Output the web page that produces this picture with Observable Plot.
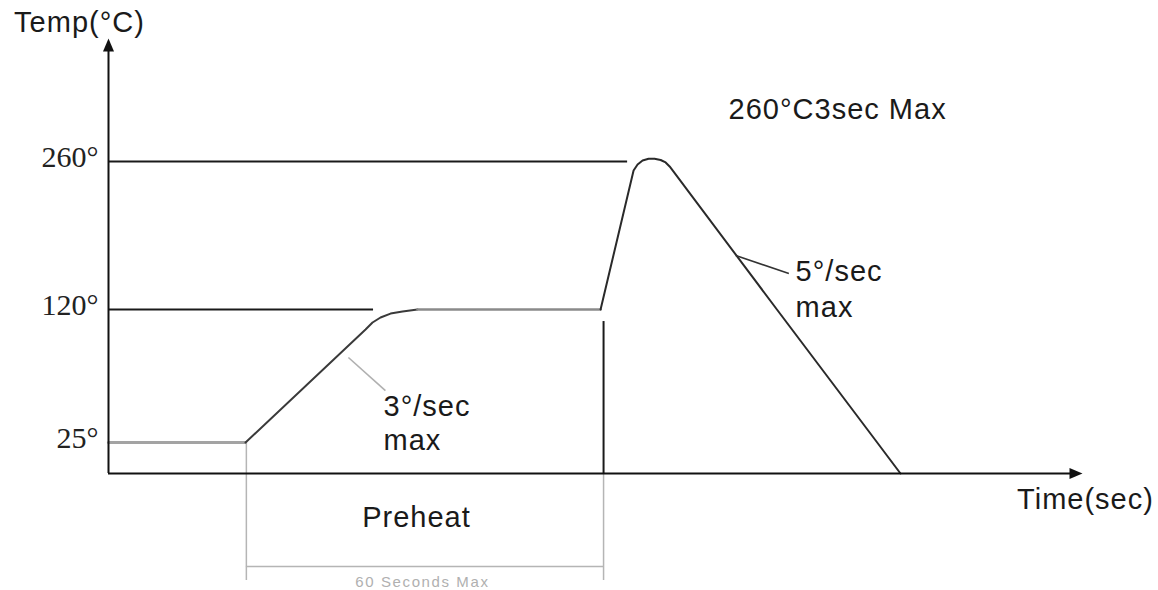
<!DOCTYPE html>
<html><head><meta charset="utf-8">
<script src="https://cdn.jsdelivr.net/npm/d3@7"></script>
<script src="https://cdn.jsdelivr.net/npm/@observablehq/plot@0.6"></script>
<style>
html,body{margin:0;padding:0;background:#fff;overflow:hidden}
.ann text{letter-spacing:1px}
.note text{letter-spacing:1.6px}
</style>
</head><body><div id="chart"></div>
<script>
// Y tick values and labels (temperature, °C)
const tickTemps = [25, 120, 260];
const tickLabels = ["25°", "120°", "260°"];

// Reflow profile: time (s, schematic) and temperature (°C), by segment
const profileTime = [0, 22.96, 22.96, 43.07, 44.24, 45.58, 47.26, 49.27, 51.78, 51.78, 82.45, 82.45, 87.98, 88.65, 89.49, 90.50, 91.50, 92.51, 93.35, 94.02, 112.0, 128.8, 132.7];
const profileTemp = [25, 25, 25, 105.7, 110.7, 114.3, 117.1, 118.6, 120, 120, 120, 120, 251.5, 257.2, 261.0, 262.6, 262.6, 261.4, 259.1, 255.3, 120, 25, 0];
const profileSeg  = ["hold","hold","ramp","ramp","ramp","ramp","ramp","ramp","ramp","soak","soak","peak","peak","peak","peak","peak","peak","peak","peak","peak","peak","peak","peak"];

// Guide lines at 260° and 120°
const guideTemps = [260, 120];
const guideEnds = [86.98, 44.41];

// Preheat window (s)
const preheatStart = 23.1;
const preheatEnd = 82.95;
const preheatEndTemp = 111.4;
const dimTemp = -75;
const dimBottom = -86.3;

// Centered annotation texts
const annText = ["Temp(°C)", "260°C3sec Max", "Time(sec)", "Preheat"];
const annTime = [-4.86, 122.17, 163.7, 51.6];
const annTemp = [390.5, 309.2, -21.0, -35.5];

// Slope labels (left-aligned)
const slopeText = ["3°/sec", "max", "5°/sec", "max"];
const slopeTime = [46.09, 46.09, 115.13, 115.13];
const slopeTemp = [50.7, 26.4, 155.9, 121.9];

const noteText = ["60 Seconds Max"];
const noteTime = [52.6];
const noteTemp = [-88];

// Leader lines
const leaderT1 = [40.2, 105.1];
const leaderY1 = [85.7, 171.1];
const leaderT2 = [46.4, 114.0];
const leaderY2 = [62.1, 154.1];

// Axis ends
const xAxisEnd = 163.2;
const yAxisEnd = 376;

// Schematic (non-uniform) temperature axis: breakpoints and their relative heights
const yBreaks = [0, 25, 120, 260, 376];
const yHeights = [0, 31, 164, 312, 435];
const ySchematic = d3.scaleLinear().domain(yBreaks).range(yHeights);

const profile = profileTime.map((t, i) => ({t, T: profileTemp[i], seg: profileSeg[i]}));
const guides = guideTemps.map((T, i) => ({T, end: guideEnds[i]}));
const ann = annText.map((s, i) => ({s, t: annTime[i], T: annTemp[i]}));
const slopes = slopeText.map((s, i) => ({s, t: slopeTime[i], T: slopeTemp[i]}));
const notes = noteText.map((s, i) => ({s, t: noteTime[i], T: noteTemp[i]}));
const leaders = leaderT1.map((t1, i) => ({t1, y1: leaderY1[i], t2: leaderT2[i], y2: leaderY2[i], k: i}));

const arrowHead = {draw(ctx) { ctx.moveTo(0, 0); ctx.lineTo(-5.5, 13); ctx.lineTo(5.5, 13); ctx.closePath(); }};

const sans = "Liberation Sans, Arial, sans-serif";
const segStyle = {
  hold: {stroke: "#a3a3a3", w: 3},
  ramp: {stroke: "#3a3a3a", w: 2},
  soak: {stroke: "#8a8a8a", w: 2.5},
  peak: {stroke: "#2a2a2a", w: 2}
};

const chart = Plot.plot({
  width: 1158,
  height: 590,
  marginLeft: 108,
  marginRight: 76,
  marginTop: 38,
  marginBottom: 117,
  style: {background: "#fff"},
  x: {domain: [0, xAxisEnd], range: [108, 1082], axis: null},
  y: {transform: ySchematic, domain: [0, 435], range: [473, 38], axis: null},
  marks: [
    // preheat dimension (gray)
    Plot.ruleX([preheatStart], {y1: 25, y2: dimBottom, stroke: "#b5b5b5", strokeWidth: 1.5}),
    Plot.ruleX([preheatEnd], {y1: 0, y2: dimBottom, stroke: "#b5b5b5", strokeWidth: 1.5}),
    Plot.ruleY([dimTemp], {x1: preheatStart, x2: preheatEnd, stroke: "#b5b5b5", strokeWidth: 1.5}),
    // guides
    Plot.ruleY(guides, {y: "T", x1: 0, x2: "end", stroke: "#1a1a1a", strokeWidth: 2}),
    Plot.ruleX([preheatEnd], {y1: 0, y2: preheatEndTemp, stroke: "#1a1a1a", strokeWidth: 2}),
    // profile
    ...Object.keys(segStyle).map(k => Plot.line(profile.filter(d => d.seg === k), {
      x: "t", y: "T", stroke: segStyle[k].stroke, strokeWidth: segStyle[k].w,
      strokeLinejoin: "round", strokeLinecap: "round"
    })),
    // leaders
    Plot.link(leaders, {x1: "t1", y1: "y1", x2: "t2", y2: "y2",
      stroke: d => d.k === 0 ? "#b0b0b0" : "#333", strokeWidth: 1.6}),
    // axes
    Plot.ruleX([0], {y1: 0, y2: yAxisEnd - 8, stroke: "#111", strokeWidth: 2}),
    Plot.ruleY([0], {x1: 0, x2: xAxisEnd - 1.5, stroke: "#111", strokeWidth: 2}),
    Plot.dot([{t: 0, T: yAxisEnd}], {x: "t", y: "T", symbol: arrowHead, fill: "#111", stroke: null}),
    Plot.dot([{t: xAxisEnd, T: 0}], {x: "t", y: "T", symbol: arrowHead, fill: "#111", stroke: null, rotate: 90}),
    // y tick labels
    Plot.text(tickTemps, {x: 0, y: d => d, text: (d, i) => tickLabels[i], textAnchor: "end", dx: -10, dy: -4,
      lineAnchor: "middle", fontSize: 30, fontFamily: "Liberation Serif, Times New Roman, serif", fill: "#222"}),
    // annotations
    Plot.text(ann, {x: "t", y: "T", text: "s", textAnchor: "middle", lineAnchor: "middle",
      fontSize: 29, fontFamily: sans, fill: "#1a1a1a", className: "ann"}),
    Plot.text(slopes, {x: "t", y: "T", text: "s", textAnchor: "start", lineAnchor: "middle",
      fontSize: 29, fontFamily: sans, fill: "#1a1a1a", className: "ann"}),
    Plot.text(notes, {x: "t", y: "T", text: "s", textAnchor: "middle", lineAnchor: "middle",
      fontSize: 15, fontFamily: sans, fill: "#b0b0b0", className: "note"})
  ]
});
document.getElementById("chart").appendChild(chart);
</script></body></html>
